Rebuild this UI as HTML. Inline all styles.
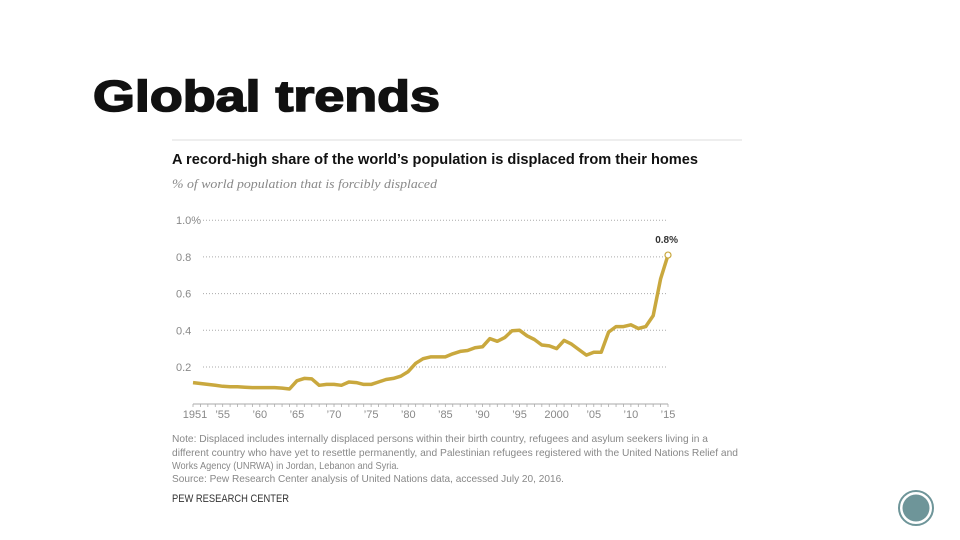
<!DOCTYPE html>
<html><head><meta charset="utf-8"><style>
html,body{margin:0;padding:0;background:#fff;width:960px;height:540px;overflow:hidden}
</style></head><body>
<svg id="s" width="960" height="540" xmlns="http://www.w3.org/2000/svg" style="font-family:'Liberation Sans',sans-serif">
<text x="93" y="111" font-size="44" font-weight="bold" fill="#111" stroke="#111" stroke-width="1.6" textLength="347" lengthAdjust="spacingAndGlyphs">Global trends</text>
<line x1="172" y1="140" x2="742" y2="140" stroke="#ddd" stroke-width="1"/>
<text x="172" y="164" font-size="15" font-weight="bold" fill="#111" textLength="526" lengthAdjust="spacingAndGlyphs">A record-high share of the world’s population is displaced from their homes</text>
<text x="172" y="188" font-size="13" font-style="italic" fill="#888" font-family="Liberation Serif,serif" textLength="265" lengthAdjust="spacingAndGlyphs">% of world population that is forcibly displaced</text>
<g id="grid"></g>
<g id="xaxis"></g>
<path id="line" fill="none" stroke="#c9a83e" stroke-width="3.5" stroke-linejoin="round"/>
<g id="endp"></g>
<g fill="#888" font-size="10.5">
<text x="172" y="442" textLength="536" lengthAdjust="spacingAndGlyphs">Note: Displaced includes internally displaced persons within their birth country, refugees and asylum seekers living in a</text>
<text x="172" y="456" textLength="566" lengthAdjust="spacingAndGlyphs">different country who have yet to resettle permanently, and Palestinian refugees registered with the United Nations Relief and</text>
<text x="172" y="469" textLength="227" lengthAdjust="spacingAndGlyphs">Works Agency (UNRWA) in Jordan, Lebanon and Syria.</text>
<text x="172" y="482" textLength="392" lengthAdjust="spacingAndGlyphs">Source: Pew Research Center analysis of United Nations data, accessed July 20, 2016.</text>
</g>
<text x="172" y="502" font-size="11" fill="#333" textLength="117" lengthAdjust="spacingAndGlyphs">PEW RESEARCH CENTER</text>
<circle cx="916" cy="508" r="17" fill="none" stroke="#6e9599" stroke-width="2"/>
<circle cx="916" cy="508" r="13.5" fill="#6e9599"/>
</svg>
<script>
const years=[1951,1952,1953,1954,1955,1956,1957,1958,1959,1960,1961,1962,1963,1964,1965,1966,1967,1968,1969,1970,1971,1972,1973,1974,1975,1976,1977,1978,1979,1980,1981,1982,1983,1984,1985,1986,1987,1988,1989,1990,1991,1992,1993,1994,1995,1996,1997,1998,1999,2000,2001,2002,2003,2004,2005,2006,2007,2008,2009,2010,2011,2012,2013,2014,2015];
const values=[0.115,0.11,0.105,0.10,0.095,0.092,0.092,0.09,0.088,0.088,0.088,0.088,0.085,0.08,0.125,0.138,0.135,0.10,0.105,0.105,0.10,0.118,0.115,0.105,0.105,0.118,0.132,0.138,0.15,0.175,0.22,0.245,0.255,0.255,0.255,0.272,0.285,0.29,0.305,0.31,0.355,0.34,0.36,0.398,0.40,0.37,0.35,0.32,0.315,0.30,0.345,0.325,0.295,0.265,0.28,0.28,0.39,0.42,0.42,0.43,0.41,0.42,0.48,0.68,0.81];
const yTicks=[0.2,0.4,0.6,0.8,1.0];
const yTickLabels=["0.2","0.4","0.6","0.8","1.0%"];
const xTickYears=[1951,1955,1960,1965,1970,1975,1980,1985,1990,1995,2000,2005,2010,2015];
const xTickLabels=["1951","’55","’60","’65","’70","’75","’80","’85","’90","’95","2000","’05","’10","’15"];
const endLabel="0.8%";
const NS="http://www.w3.org/2000/svg";
const X=y=>193+(y-1951)*(475/64);
const Y=v=>403.7-v*183.5;
function mk(t,a,p){const e=document.createElementNS(NS,t);for(const k in a)e.setAttribute(k,a[k]);p.appendChild(e);return e;}
const g=document.getElementById('grid');
yTicks.forEach((v,i)=>{
 const l=mk('line',{x1:203,x2:668,y1:Y(v),y2:Y(v),stroke:'#aaa','stroke-width':1,'stroke-dasharray':'1,2'},g);
 
 
 const t=mk('text',{x:176,y:Y(v)+4,'font-size':11,fill:'#888'},g);
 t.textContent=yTickLabels[i];
 
 
});
const xa=document.getElementById('xaxis');
const ax=mk('line',{x1:X(1951),x2:X(2015),y1:404,y2:404,stroke:'#aaa','stroke-width':1},xa);


years.forEach(yr=>{
 const tk=mk('line',{x1:X(yr),x2:X(yr),y1:404,y2:407,stroke:'#aaa','stroke-width':0.8},xa);
 
 
});
xTickYears.forEach((yr,i)=>{
 const t=mk('text',{x:X(yr)+(i==0?2:0),y:418,'font-size':11,fill:'#888','text-anchor':'middle'},xa);
 t.textContent=xTickLabels[i];
 
 
});
document.getElementById('line').setAttribute('d',years.map((yr,i)=>(i?'L':'M')+X(yr).toFixed(1)+','+Y(values[i]).toFixed(1)).join(''));
const ep=document.getElementById('endp');
const last=values.length-1;
const c=mk('circle',{cx:X(years[last]),cy:Y(values[last]),r:3,fill:'#fff',stroke:'#c9a83e','stroke-width':1.2},ep);


const et=mk('text',{x:X(years[last])+10,y:Y(values[last])-12,'font-size':10,'font-weight':'bold',fill:'#333','text-anchor':'end'},ep);
et.textContent=endLabel;


</script>
</body></html>
